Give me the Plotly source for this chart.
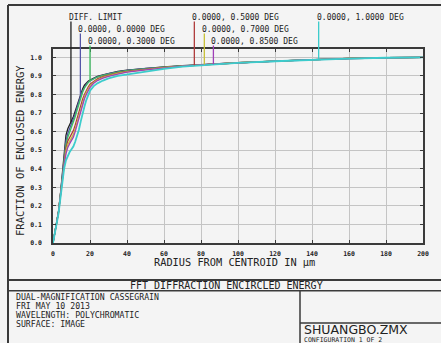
import numpy as np
import plotly.graph_objects as go

# ---------------- data ----------------
radius = [0, 1, 2, 3, 4, 5, 6, 7, 8, 9, 10, 11, 12, 13, 14, 15, 16, 17, 18, 19, 20,
          22, 24, 27, 30, 35, 40, 50, 60, 70, 80, 90, 100, 120, 140, 160, 180, 200]

diff_limit = [0, .05, .11, .17, .26, .36, .48, .58, .615, .635, .655, .68, .71, .74, .775, .805, .83, .85, .862, .871, .878,
              .888, .897, .906, .914, .924, .931, .942, .949, .955, .961, .966, .971, .980, .988, .994, .998, 1.0]
deg_000 = [0, .05, .11, .17, .26, .36, .47, .55, .59, .615, .64, .665, .695, .73, .765, .795, .82, .84, .855, .866, .874,
           .886, .895, .904, .912, .922, .930, .941, .948, .955, .961, .966, .971, .980, .988, .994, .998, 1.0]
deg_030 = [0, .05, .11, .17, .26, .36, .46, .53, .57, .595, .62, .645, .68, .715, .75, .785, .812, .835, .852, .864, .873,
           .885, .894, .903, .911, .921, .929, .940, .947, .954, .960, .966, .971, .980, .988, .994, .998, 1.0]
deg_050 = [0, .05, .11, .17, .26, .35, .44, .51, .55, .57, .585, .605, .635, .67, .71, .745, .775, .80, .822, .84, .855,
           .872, .884, .896, .905, .916, .925, .937, .946, .953, .960, .966, .971, .980, .988, .994, .998, 1.0]
deg_070 = [0, .05, .105, .165, .25, .34, .43, .495, .53, .55, .565, .585, .615, .65, .69, .725, .76, .787, .81, .83, .846,
           .865, .879, .892, .901, .913, .922, .935, .945, .953, .960, .966, .971, .980, .988, .994, .998, 1.0]
deg_085 = [0, .05, .105, .165, .25, .34, .42, .48, .515, .535, .55, .57, .60, .635, .675, .712, .748, .777, .80, .822, .838,
           .86, .875, .888, .898, .91, .92, .933, .944, .952, .959, .965, .971, .980, .988, .994, .998, 1.0]
deg_100 = [0, .05, .105, .16, .24, .33, .40, .445, .47, .49, .505, .52, .545, .575, .61, .655, .70, .735, .77, .80, .82,
           .845, .86, .875, .887, .90, .908, .922, .938, .950, .958, .964, .970, .979, .987, .993, .998, 1.0]

series_values = [diff_limit, deg_000, deg_030, deg_050, deg_070, deg_085, deg_100]
series_labels = ["DIFF. LIMIT", "0.0000, 0.0000 DEG", "0.0000, 0.3000 DEG", "0.0000, 0.5000 DEG",
                 "0.0000, 0.7000 DEG", "0.0000, 0.8500 DEG", "0.0000, 1.0000 DEG"]
label_radius = [9.7, 14.8, 20, 76.4, 81.8, 86.7, 143.6]
label_row = [0, 1, 2, 0, 1, 2, 0]

x_ticks = [0, 20, 40, 60, 80, 100, 120, 140, 160, 180, 200]
y_ticks = [0.0, 0.1, 0.2, 0.3, 0.4, 0.5, 0.6, 0.7, 0.8, 0.9, 1.0]

title_text = "FFT DIFFRACTION ENCIRCLED ENERGY"
info_lines = ["DUAL-MAGNIFICATION CASSEGRAIN", "FRI MAY 10 2013",
              "WAVELENGTH: POLYCHROMATIC", "SURFACE: IMAGE"]
file_name = "SHUANGBO.ZMX"
config_text = "CONFIGURATION 1 OF 2"

# ---------------- styling ----------------
colors = ["#202020", "#5555a8", "#3cc060", "#b03c3c", "#c8c038", "#a040b8", "#3ccccc"]
widths = [1.3, 1.3, 1.3, 1.3, 1.3, 1.3, 1.8]
MONO = "DejaVu Sans Mono"
W, H = 441, 343
PL, PR, PT, PB = 53, 423, 49, 243
YMAX = 1.045
BG = "#f4f4f4"
FRAME = "#3a3a3a"


def pxx(x):
    return (x - PL) / (PR - PL)


def pxy(y):
    return (PB - y) / (PB - PT)


fig = go.Figure()
for vals, name, c, w in zip(series_values, series_labels, colors, widths):
    fig.add_trace(go.Scatter(x=radius, y=vals, mode="lines", name=name,
                             line=dict(color=c, width=w), showlegend=False,
                             hoverinfo="skip"))

shapes = []
annotations = []
row_text_y = [17.5, 29.7, 41.5]
row_line_top = [21.5, 33.5, 45.5]
for vals, name, c, lx, row in zip(series_values, series_labels, colors, label_radius, label_row):
    v = float(np.interp(lx, radius, vals))
    shapes.append(dict(type="line", xref="x", yref="y", x0=lx, x1=lx, y0=v, y1=YMAX,
                       line=dict(color=c, width=1.3)))
    shapes.append(dict(type="line", xref="x", yref="paper", x0=lx, x1=lx, y0=1, y1=pxy(row_line_top[row]),
                       line=dict(color=c, width=1.3)))
    annotations.append(dict(text=name, xref="x", yref="paper", x=lx, y=pxy(row_text_y[row]),
                            xanchor="left", yanchor="middle", xshift=-4, showarrow=False,
                            font=dict(family=MONO, size=8, color="#222")))

# frame and title block
def pline(x0, y0, x1, y1, w=2):
    shapes.append(dict(type="line", xref="paper", yref="paper", x0=pxx(x0), x1=pxx(x1),
                       y0=pxy(y0), y1=pxy(y1), line=dict(color=FRAME, width=w)))

pline(8, 5, 8, 360)
pline(8, 5, 460, 5)
pline(8, 280, 460, 280)
pline(8, 290.7, 460, 290.7, 1.5)
pline(300, 290.7, 300, 360, 1.5)
pline(300, 323, 460, 323, 1.5)

annotations.append(dict(text="FRACTION OF ENCLOSED ENERGY", xref="paper", yref="paper",
                        x=pxx(20), y=pxy(151), textangle=-90, showarrow=False,
                        xanchor="center", yanchor="middle",
                        font=dict(family=MONO, size=10.5, color="#222")))
annotations.append(dict(text="RADIUS FROM CENTROID IN µm", xref="paper", yref="paper",
                        x=pxx(234), y=pxy(262), showarrow=False, xanchor="center", yanchor="middle",
                        font=dict(family=MONO, size=10.3, color="#222")))
annotations.append(dict(text=title_text, xref="paper", yref="paper",
                        x=pxx(226), y=pxy(285.5), showarrow=False, xanchor="center", yanchor="middle",
                        font=dict(family=MONO, size=10, color="#222")))
for i, t in enumerate(info_lines):
    annotations.append(dict(text=t, xref="paper", yref="paper",
                            x=pxx(14), y=pxy(296.5 + 9 * i), showarrow=False,
                            xanchor="left", yanchor="middle",
                            font=dict(family=MONO, size=8.2, color="#222")))
annotations.append(dict(text=file_name, xref="paper", yref="paper",
                        x=pxx(302), y=pxy(329), showarrow=False, xanchor="left", yanchor="middle",
                        font=dict(family="DejaVu Sans", size=12.5, color="#222")))
annotations.append(dict(text=config_text, xref="paper", yref="paper",
                        x=pxx(302), y=pxy(339.5), showarrow=False, xanchor="left", yanchor="middle",
                        font=dict(family=MONO, size=6.5, color="#222")))

axis_common = dict(showgrid=True, gridcolor="#c4c4c4", gridwidth=1, zeroline=False,
                   showline=True, linecolor=FRAME, linewidth=1.5, mirror="ticks",
                   ticks="inside", ticklen=3, tickcolor=FRAME, tickwidth=1.2,
                   tickfont=dict(family=MONO, size=6.5, color="#222", weight="bold"))

fig.update_layout(
    width=W, height=H,
    margin=dict(l=PL, r=W - PR, t=PT, b=H - PB, pad=0),
    paper_bgcolor=BG, plot_bgcolor=BG,
    xaxis=dict(range=[0, 200], tickvals=x_ticks, ticktext=[str(t) for t in x_ticks],
               ticklabelstandoff=3, **axis_common),
    yaxis=dict(range=[0, YMAX], tickvals=y_ticks, ticktext=["%.1f" % t for t in y_ticks],
               ticklabelstandoff=8, **axis_common),
    shapes=shapes, annotations=annotations,
)

fig.write_html("out.html", config={"displayModeBar": False},
               post_script="document.body.style.margin='0px';")
